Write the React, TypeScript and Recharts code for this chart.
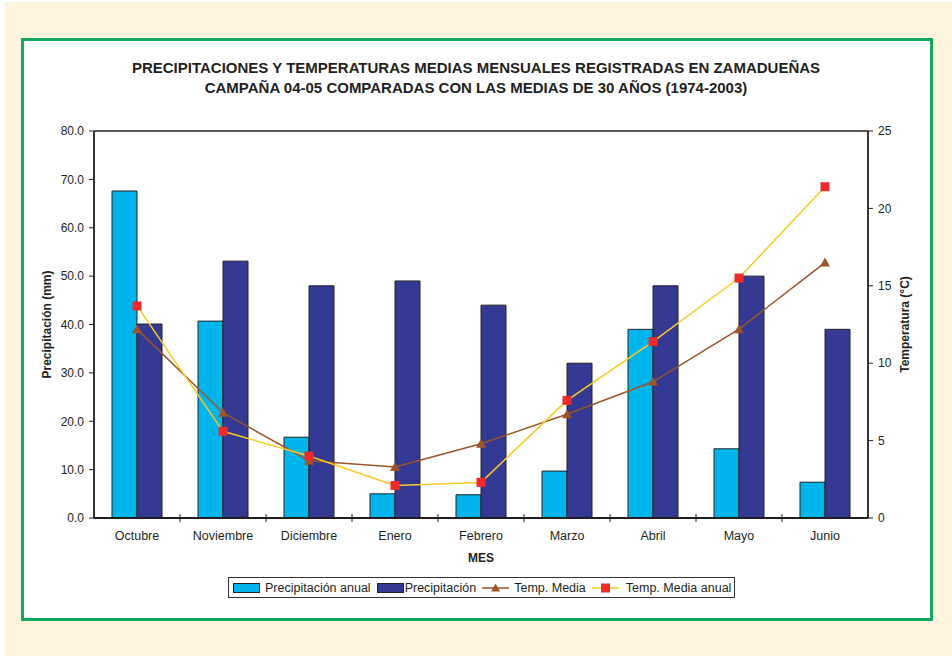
import {
  ComposedChart,
  Bar,
  Line,
  XAxis,
  YAxis,
  Legend,
  ReferenceLine,
} from "recharts";

const months = ["Octubre", "Noviembre", "Diciembre", "Enero", "Febrero", "Marzo", "Abril", "Mayo", "Junio"];
// campaña 04-05
const precipCampana = [67.6, 40.7, 16.7, 5.0, 4.8, 9.7, 39.0, 14.3, 7.4];
const tempCampana = [13.7, 5.6, 4.0, 2.1, 2.3, 7.6, 11.4, 15.5, 21.4];
// medias 1974-2003
const precipMedia = [40.1, 53.1, 48.0, 49.0, 44.0, 32.0, 48.0, 50.0, 39.0];
const tempMedia = [12.2, 6.8, 3.7, 3.3, 4.8, 6.7, 8.8, 12.2, 16.5];

const precipTicks = [0, 10, 20, 30, 40, 50, 60, 70, 80];
const tempTicks = [0, 5, 10, 15, 20, 25];

const data = months.map((mes, i) => ({
  mes,
  precipAnual: precipCampana[i],
  precip: precipMedia[i],
  tempMedia: tempMedia[i],
  tempAnual: tempCampana[i],
}));

const FONT = "'Liberation Sans', Arial, sans-serif";
const INK = "#231F20";
const LIGHT = "#00B5EC";
const DARK = "#343A94";
const BROWN = "#9C552B";
const YELLOW = "#F9C924";
const RED = "#EE2A2A";

const W = 952;
const H = 656;
const M = { top: 131, right: 24, bottom: 88, left: 34 };
const AXIS_W = 60;
const BAND = (W - M.left - M.right - 2 * AXIS_W) / months.length;

const Square = (props: any) => {
  const { cx, cy } = props;
  if (cx == null || cy == null) return null;
  return <rect x={cx - 4.5} y={cy - 4.5} width={9} height={9} fill={RED} />;
};

const Triangle = (props: any) => {
  const { cx, cy } = props;
  if (cx == null || cy == null) return null;
  return <path d={`M${cx},${cy - 5} L${cx + 5},${cy + 4} L${cx - 5},${cy + 4} Z`} fill={BROWN} />;
};

const MonthTick = (props: any) => {
  const { x, y, payload, index } = props;
  const axisY = y - 12;
  return (
    <g>
      {index < months.length - 1 && (
        <line x1={x + BAND / 2} x2={x + BAND / 2} y1={axisY - 4} y2={axisY + 4} stroke={INK} />
      )}
      <text x={x} y={y} dy={10} textAnchor="middle" fontSize={12.5} fill={INK} fontFamily={FONT}>
        {payload.value}
      </text>
    </g>
  );
};

const LegendBox = () => {
  const item = (swatch: React.ReactNode, label: string, gap = 4) => (
    <span style={{ display: "flex", alignItems: "center", marginRight: 6 }}>
      <svg width={28} height={12} style={{ marginRight: gap }}>
        {swatch}
      </svg>
      <span>{label}</span>
    </span>
  );
  return (
    <div
      style={{
        display: "flex",
        alignItems: "center",
        width: 507,
        height: 21,
        boxSizing: "border-box",
        border: "1px solid #333",
        background: "#fff",
        paddingLeft: 4,
        fontFamily: FONT,
        fontSize: 12.5,
        color: INK,
        whiteSpace: "nowrap",
      }}
    >
      {item(<rect x={0.5} y={1.5} width={26} height={9} fill={LIGHT} stroke="#222" />, "Precipitación anual")}
      {item(<rect x={0.5} y={1.5} width={26} height={9} fill={DARK} stroke="#222" />, "Precipitación", 0)}
      {item(
        <g>
          <line x1={0} x2={27} y1={6} y2={6} stroke={BROWN} strokeWidth={1.5} />
          <path d="M13.5,1.5 L18,9.5 L9,9.5 Z" fill={BROWN} />
        </g>,
        "Temp. Media"
      )}
      {item(
        <g>
          <line x1={0} x2={27} y1={6} y2={6} stroke={YELLOW} strokeWidth={1.5} />
          <rect x={9} y={1.5} width={9} height={9} fill={RED} />
        </g>,
        "Temp. Media anual",
        6
      )}
    </div>
  );
};

export default function App() {
  return (
    <div style={{ position: "absolute", left: 0, top: 0, width: W, height: H, background: "#fff" }}>
      <div style={{ position: "absolute", left: 5, top: 2, width: W - 5, height: H - 2, background: "#FCF4DC" }} />
      <div
        style={{
          position: "absolute",
          left: 21,
          top: 38,
          width: 912,
          height: 583,
          boxSizing: "border-box",
          border: "3px solid #12A862",
          background: "#fff",
        }}
      />
      <div
        style={{
          position: "absolute",
          left: 0,
          top: 58,
          width: W,
          textAlign: "center",
          fontFamily: FONT,
          fontWeight: "bold",
          fontSize: 15,
          lineHeight: "20px",
          color: INK,
        }}
      >
        PRECIPITACIONES Y TEMPERATURAS MEDIAS MENSUALES REGISTRADAS EN ZAMADUEÑAS
        <br />
        CAMPAÑA 04-05 COMPARADAS CON LAS MEDIAS DE 30 AÑOS (1974-2003)
      </div>
      <div style={{ position: "absolute", left: 0, top: 0 }}>
        <ComposedChart width={W} height={H} data={data} margin={M} barGap={0}>
          <XAxis
            dataKey="mes"
            height={50}
            tickLine={false}
            tickSize={5}
            tickMargin={7}
            interval={0}
            axisLine={{ stroke: INK, strokeWidth: 1.8 }}
            tick={<MonthTick />}
            label={{
              value: "MES",
              position: "insideBottom",
              offset: 6,
              style: { fontFamily: FONT, fontWeight: "bold", fontSize: 12, fill: INK },
            }}
          />
          <YAxis
            yAxisId="left"
            width={AXIS_W}
            domain={[0, 80]}
            ticks={precipTicks}
            tickFormatter={(v: number) => v.toFixed(1)}
            tickSize={5}
            tickMargin={5}
            axisLine={{ stroke: INK, strokeWidth: 1.8 }}
            tickLine={{ stroke: INK }}
            tick={{ fontSize: 12, fill: INK, fontFamily: FONT }}
            label={{
              value: "Precipitación (mm)",
              angle: -90,
              position: "insideLeft",
              offset: 13,
              style: { textAnchor: "middle", fontFamily: FONT, fontWeight: "bold", fontSize: 12, fill: INK },
            }}
          />
          <YAxis
            yAxisId="right"
            orientation="right"
            width={AXIS_W}
            domain={[0, 25]}
            ticks={tempTicks}
            tickSize={5}
            tickMargin={5}
            axisLine={{ stroke: INK, strokeWidth: 1.8 }}
            tickLine={{ stroke: INK }}
            tick={{ fontSize: 12, fill: INK, fontFamily: FONT }}
            label={{
              value: "Temperatura (°C)",
              angle: -90,
              position: "insideRight",
              offset: 23,
              style: { textAnchor: "middle", fontFamily: FONT, fontWeight: "bold", fontSize: 12, fill: INK },
            }}
          />
          <ReferenceLine yAxisId="left" y={80} stroke={INK} strokeWidth={1.5} />
          <Legend
            layout="horizontal"
            verticalAlign="middle"
            align="center"
            wrapperStyle={{ position: "absolute", left: 228, top: 577, width: 507 }}
            content={<LegendBox />}
          />
          <Bar
            yAxisId="left"
            dataKey="precipAnual"
            name="Precipitación anual"
            fill={LIGHT}
            stroke="#222"
            strokeWidth={1}
            barSize={25}
            isAnimationActive={false}
          />
          <Bar
            yAxisId="left"
            dataKey="precip"
            name="Precipitación"
            fill={DARK}
            stroke="#222"
            strokeWidth={1}
            barSize={25}
            isAnimationActive={false}
          />
          <Line
            yAxisId="right"
            type="linear"
            dataKey="tempMedia"
            name="Temp. Media"
            stroke={BROWN}
            strokeWidth={1.5}
            dot={<Triangle />}
            activeDot={false}
            isAnimationActive={false}
          />
          <Line
            yAxisId="right"
            type="linear"
            dataKey="tempAnual"
            name="Temp. Media anual"
            stroke={YELLOW}
            strokeWidth={1.5}
            dot={<Square />}
            activeDot={false}
            isAnimationActive={false}
          />
        </ComposedChart>
      </div>
    </div>
  );
}
